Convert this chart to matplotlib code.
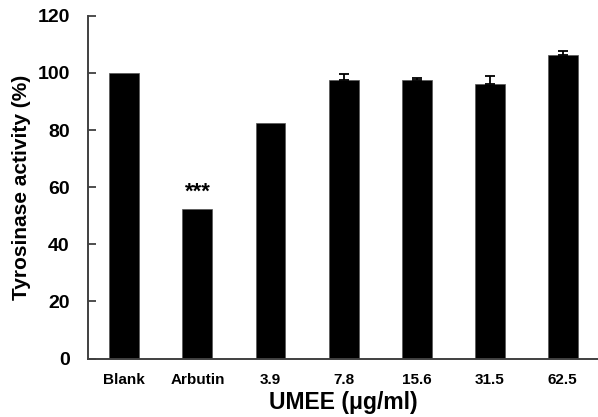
import matplotlib
matplotlib.use('Agg')
from matplotlib import pyplot as plt
import numpy as np

plt.rcParams['font.family'] = ['Liberation Sans', 'DejaVu Sans']
plt.rcParams['font.weight'] = 'bold'

categories = ['Blank', 'Arbutin', '3.9', '7.8', '15.6', '31.5', '62.5']
activity = [100.0, 52.3, 82.6, 97.5, 97.5, 96.0, 106.2]
errors = [0.0, 0.0, 0.0, 2.2, 0.7, 2.8, 1.4]
y_ticks = [0, 20, 40, 60, 80, 100, 120]

fig = plt.figure(figsize=(5.98, 4.17), dpi=100)
ax = fig.add_axes([0.147, 0.14, 0.855, 0.822])

x = np.arange(len(categories))
ax.bar(x, activity, width=0.41, color='black', edgecolor='#555555', linewidth=0.5, zorder=2)
# only draw error bars where there is a visible error
has_err = [i for i, e in enumerate(errors) if e > 0]
ax.errorbar(x[has_err], [activity[i] for i in has_err],
            yerr=[np.zeros(len(has_err)), [errors[i] for i in has_err]], fmt='none',
            ecolor='black', elinewidth=1.3, capsize=3.5, capthick=1.3, zorder=3)

# significance mark over Arbutin
ax.text(1, activity[1] + 5.8, '***', ha='center', va='center', fontsize=16, fontweight='bold')

ax.set_xlim(-0.5, 6.5)
ax.set_ylim(0, 120)
ax.set_yticks(y_ticks)
ax.set_xticks(x)
ax.set_xticklabels(categories, fontsize=11, fontweight='bold')
ax.tick_params(axis='y', direction='in', length=6, width=1.3, labelsize=14, color='#404040', pad=13)
ax.tick_params(axis='x', length=0, pad=10)
for lbl in ax.get_yticklabels():
    lbl.set_fontweight('bold')

for side in ['top', 'right']:
    ax.spines[side].set_visible(False)
for side in ['left', 'bottom']:
    ax.spines[side].set_color('#404040')
    ax.spines[side].set_linewidth(1.4)

ax.set_ylabel('Tyrosinase activity (%)', fontsize=15, fontweight='bold', labelpad=5)
ax.set_xlabel('UMEE (\u03bcg/ml)', fontsize=16.5, fontweight='bold', labelpad=3)

fig.savefig('out.png', dpi=100)
